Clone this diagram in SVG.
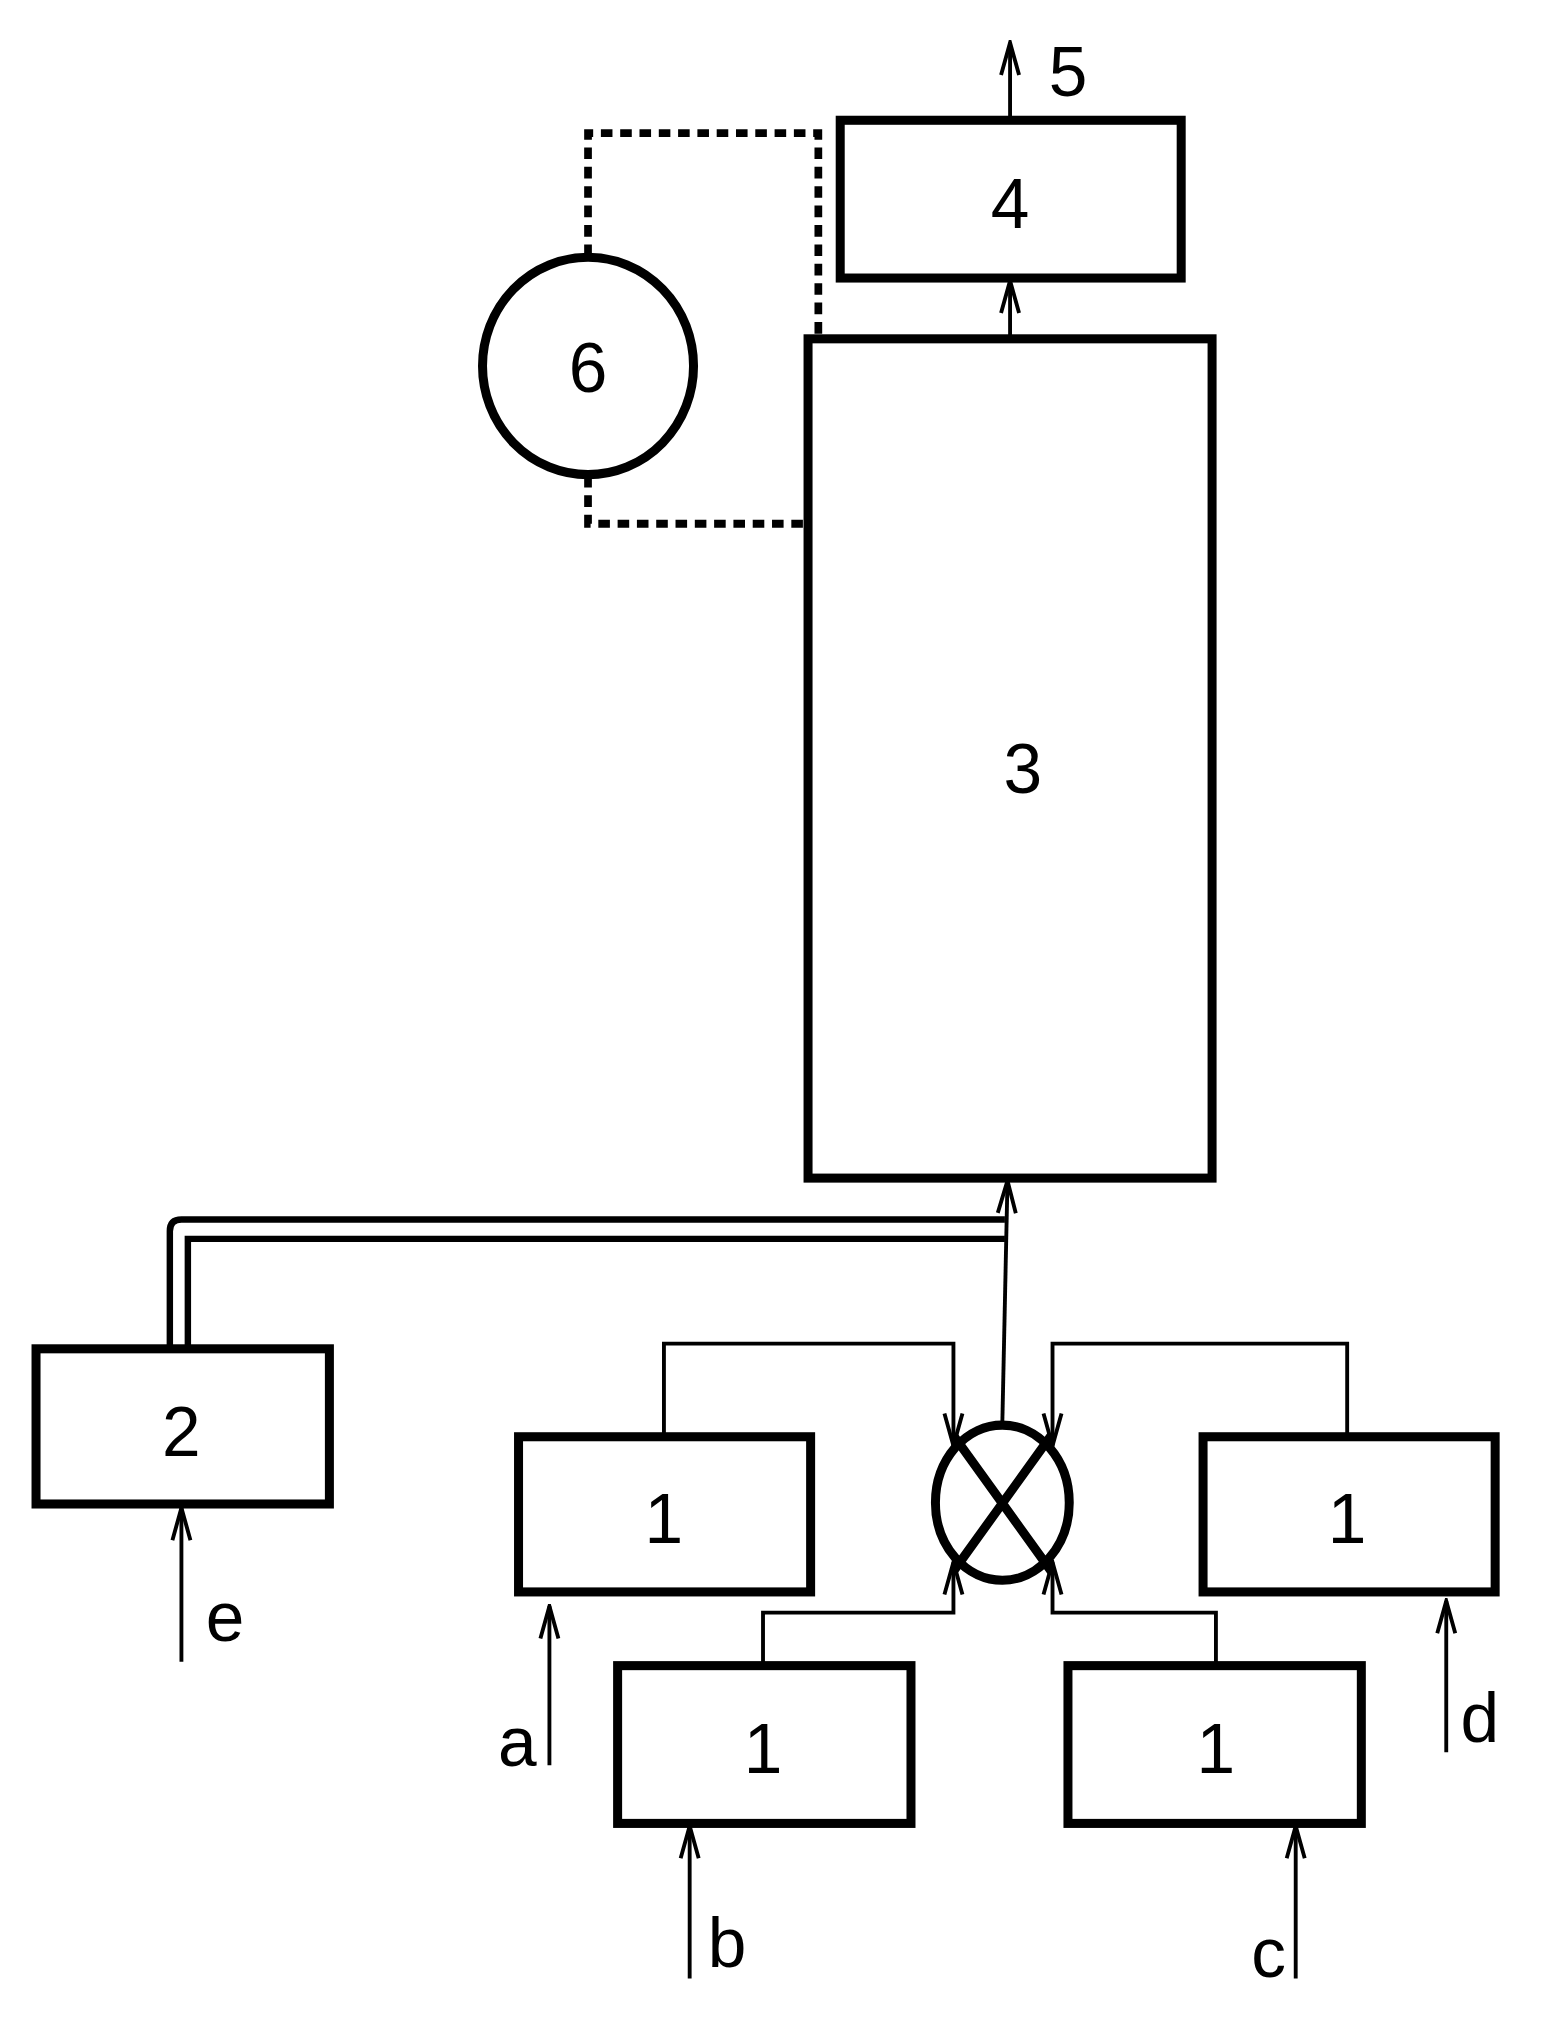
<svg xmlns="http://www.w3.org/2000/svg" width="1544" height="2020" viewBox="0 0 1544 2020">
<style>
.box{fill:none;stroke:#000;stroke-width:7}
.ln{fill:none;stroke:#000;stroke-width:3}
.dot{fill:none;stroke:#000;stroke-width:6;stroke-dasharray:9 6}
.dbl{fill:none;stroke:#000;stroke-width:5}
text{font-family:"Liberation Sans",Arial,sans-serif;font-size:54px;text-anchor:middle;fill:#000}
</style>
<defs>
<marker id="ar" markerUnits="userSpaceOnUse" viewBox="-30 -12 32 24" refX="0" refY="0" markerWidth="32" markerHeight="24" orient="auto">
<path d="M-25,-7 L0,0 L-25,7" fill="none" stroke="#000" stroke-width="3"/>
</marker>
</defs>
<rect width="1544" height="2020" fill="#fff"/>
<g transform="scale(1.2867 1.2932)">
<g id="connectors">
<path class="ln" d="M785,93 V33" marker-end="url(#ar)"/>
<path class="ln" d="M785,262 V217" marker-end="url(#ar)"/>
<path class="dot" d="M457,198 V103 H636 V262"/>
<path class="dot" d="M457,368 V405 H628"/>
<path class="dbl" d="M132,1043 V952 Q132,943 141,943 H781"/>
<path class="dbl" d="M146,1043 V958 H781"/>
<path class="ln" d="M779,1100 L783,913" marker-end="url(#ar)"/>
<path class="ln" d="M516,1111 V1039 H741 V1118" marker-end="url(#ar)"/>
<path class="ln" d="M1047,1111 V1039 H818 V1118" marker-end="url(#ar)"/>
<path class="ln" d="M593,1288 V1247 H741 V1208" marker-end="url(#ar)"/>
<path class="ln" d="M945,1288 V1247 H818 V1208" marker-end="url(#ar)"/>
<path class="ln" d="M141,1285 V1166" marker-end="url(#ar)"/>
<path class="ln" d="M427,1365 V1242" marker-end="url(#ar)"/>
<path class="ln" d="M536,1530 V1412" marker-end="url(#ar)"/>
<path class="ln" d="M1007,1530 V1412" marker-end="url(#ar)"/>
<path class="ln" d="M1124,1355 V1238" marker-end="url(#ar)"/>
</g>
<g id="n4"><rect class="box" x="653" y="93" width="265" height="122"/><text x="785" y="176">4</text></g>
<g id="n3"><rect class="box" x="628" y="262" width="314" height="649"/><text x="795" y="613">3</text></g>
<g id="n6"><ellipse class="box" cx="457" cy="283" rx="82" ry="84"/><text x="457" y="303">6</text></g>
<g id="n2"><rect class="box" x="28" y="1043" width="228" height="120"/><text x="141" y="1126">2</text></g>
<g id="mix"><ellipse class="box" cx="779" cy="1162" rx="52" ry="60"/><path class="box" d="M741,1110 L817,1215 M817,1110 L741,1215"/></g>
<g id="n1a"><rect class="box" x="403" y="1111" width="227" height="120"/><text x="516" y="1193">1</text></g>
<g id="n1d"><rect class="box" x="935" y="1111" width="227" height="120"/><text x="1047" y="1193">1</text></g>
<g id="n1b"><rect class="box" x="480" y="1288" width="228" height="122"/><text x="593" y="1371">1</text></g>
<g id="n1c"><rect class="box" x="830" y="1288" width="228" height="122"/><text x="945" y="1371">1</text></g>
<g id="labels">
<text x="830" y="74">5</text>
<text x="175" y="1269">e</text>
<text x="402" y="1366">a</text>
<text x="565" y="1521">b</text>
<text x="986" y="1529">c</text>
<text x="1150" y="1347">d</text>
</g>
</g>
</svg>
